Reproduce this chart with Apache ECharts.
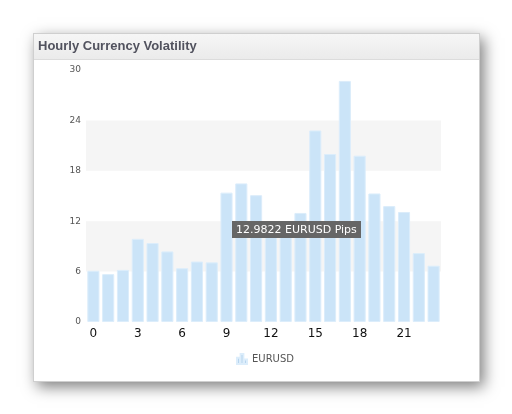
<!DOCTYPE html>
<html>
<head>
<meta charset="utf-8">
<script src="https://cdn.jsdelivr.net/npm/echarts@6/dist/echarts.min.js"></script>
<style>
  html, body { margin: 0; padding: 0; background: #fff; }
  #panel {
    position: absolute;
    left: 33px;
    top: 33px;
    width: 445px;
    height: 347px;
    border: 1px solid #cfcfcf;
    background: #fff;
    box-shadow: 4px 5px 14px rgba(0, 0, 0, 0.5);
  }
  #chart { width: 445px; height: 347px; }
</style>
</head>
<body>
<div id="panel"><div id="chart"></div></div>
<script>
// hours of the day
var hours = [];
for (var h = 0; h < 24; h++) hours.push(String(h));

// average hourly range in pips
var eurusd = [6.1, 5.7, 6.2, 9.9, 9.4, 8.4, 6.4, 7.2, 7.1, 15.4, 16.5, 15.1,
              11.2, 11.6, 12.9822, 22.8, 20.0, 28.7, 19.8, 15.3, 13.8, 13.1, 8.2, 6.7];

var yTicks = { min: 0, max: 30, step: 6 };

var chart = echarts.init(document.getElementById("chart"));

var option = {
  animation: false,
  title: {
    text: "Hourly Currency Volatility",
    left: 4,
    top: 6,
    padding: 0,
    textStyle: {
      fontFamily: "Liberation Sans",
      fontSize: 13,
      fontWeight: "bold",
      color: "#51525e"
    }
  },
  graphic: [
    {
      type: "rect",
      z: -10,
      shape: { x: 0, y: 0, width: 445, height: 25 },
      style: {
        fill: new echarts.graphic.LinearGradient(0, 0, 0, 1, [
          { offset: 0, color: "#f6f6f6" },
          { offset: 1, color: "#ebebeb" }
        ])
      }
    },
    {
      type: "rect",
      z: -10,
      shape: { x: 0, y: 25, width: 445, height: 1 },
      style: { fill: "#dcdcdc" }
    }
  ],
  tooltip: {
    trigger: "item",
    triggerOn: "none",
    alwaysShowContent: true,
    position: [198, 187],
    backgroundColor: "#666666",
    borderWidth: 0,
    borderRadius: 0,
    padding: [1, 4],
    extraCssText: "box-shadow:none;line-height:15px;",
    textStyle: {
      color: "#fff",
      fontFamily: "DejaVu Sans",
      fontSize: 11
    },
    formatter: function(p) {
      return p.value + " EURUSD Pips";
    }
  },
  legend: {
    left: 197,
    top: 314,
    itemWidth: 10,
    itemHeight: 11,
    itemGap: 10,
    textStyle: { color: "#555", fontSize: 10, fontFamily: "DejaVu Sans" },
    data: [
      {
        name: "EURUSD",
        icon: "path://M0,4h3v7h-3z M4,0h3v11h-3z M8,6h3v5h-3z",
        itemStyle: { color: "#a9cdea" }
      }
    ]
  },
  grid: { left: 52, right: 38, top: 36, bottom: 59 },
  xAxis: {
    type: "category",
    data: hours,
    axisLine: { show: false },
    axisTick: { show: false },
    axisLabel: {
      interval: 2,
      color: "#111",
      fontSize: 12,
      fontFamily: "DejaVu Sans",
      margin: 6
    }
  },
  yAxis: {
    type: "value",
    min: yTicks.min,
    max: yTicks.max,
    interval: yTicks.step,
    axisLine: { show: false },
    axisTick: { show: false },
    axisLabel: {
      color: "#555",
      fontSize: 9,
      fontFamily: "DejaVu Sans",
      margin: 5
    },
    splitLine: { show: false },
    splitArea: {
      show: true,
      areaStyle: { color: ["rgba(255,255,255,0)", "#f5f5f5"] }
    }
  },
  series: [
    {
      name: "EURUSD",
      type: "bar",
      data: eurusd,
      barCategoryGap: "18%",
      itemStyle: {
        color: "#cbe4f8",
        borderColor: "#dcedfb",
        borderWidth: 1
      },
      emphasis: { disabled: true }
    }
  ]
};

chart.setOption(option);
chart.dispatchAction({ type: "showTip", seriesIndex: 0, dataIndex: 14 });
</script>
</body>
</html>
